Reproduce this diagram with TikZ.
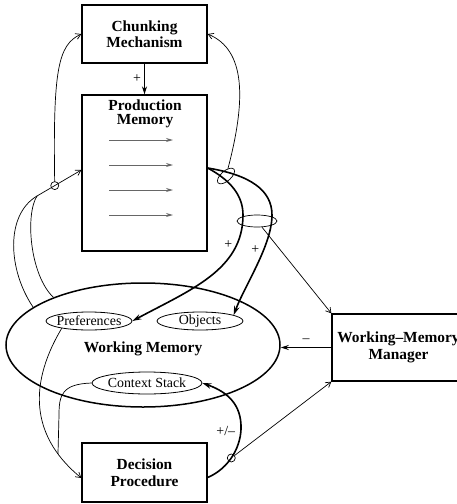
\documentclass[tikz,border=0pt]{standalone}
\usepackage{fontspec}
\setmainfont{Liberation Serif}
\usetikzlibrary{arrows.meta,shapes.geometric,calc}
\tikzset{
  box/.style={draw, line width=1.3pt, font=\fontsize{15.4}{16.5}\selectfont\bfseries, align=center, inner sep=0pt},
  oval/.style={draw, ellipse, line width=0.8pt, inner sep=0pt, font=\fontsize{13.9}{15}\selectfont},
  loop/.style={draw, ellipse, line width=0.7pt, inner sep=0pt},
  thinarr/.style={line width=0.7pt, -{Straight Barb[length=5pt,width=6pt]}},
  thickarr/.style={line width=1.6pt, -{Stealth[length=9pt,width=5.5pt]}},
  medarr/.style={line width=1.2pt, -{Stealth[length=8pt,width=5pt]}},
  thinline/.style={line width=0.7pt},
  junc/.style={draw, line width=0.7pt, circle, minimum size=8pt, inner sep=0pt},
  lab/.style={font=\fontsize{13.9}{15}\selectfont, inner sep=1pt},
  rulearr/.style={line width=1pt, draw=black!60, -{Stealth[length=7pt,width=4pt]}},
}
\begin{document}
\begin{tikzpicture}[x=1pt,y=-1pt]
\path[use as bounding box, clip] (0,0) rectangle (457,504);

% boxes
\node[box, minimum width=125pt, minimum height=58pt] (chunk) at (144.5,34) {Chunking\\Mechanism};
\node[box, minimum width=125pt, minimum height=156pt] (prod) at (144.5,173) {};
\node[font=\fontsize{15.4}{14.2}\selectfont\bfseries, align=center, inner sep=0pt] (prodtxt) at (145,114) {Production\\Memory};
\node[box, minimum width=125pt, minimum height=59pt] (dec) at (144.5,472.5) {Decision\\Procedure};
\node[box, minimum width=133pt, minimum height=67pt] (wmm) at (398.5,347.5) {Working--Memory\\Manager};

% rules inside production memory
\draw[rulearr] (109,140) -- (173,140);
\draw[rulearr] (109,165) -- (173,165);
\draw[rulearr] (109,190) -- (173,190);
\draw[rulearr] (109,215) -- (173,215);

% working memory
\node[draw, ellipse, line width=1.5pt, minimum width=274pt, minimum height=124pt, inner sep=0pt] (wm) at (143,345) {};
\node[font=\fontsize{15.4}{17}\selectfont\bfseries, inner sep=0pt] (wmtxt) at (143,349) {Working Memory};
\node[oval, minimum width=86pt, minimum height=18pt] (pref) at (89,321) {\makebox[0pt]{Preferences}};
\node[oval, minimum width=86pt, minimum height=18pt] (obj) at (200,321) {\makebox[0pt]{Objects}};
\node[oval, minimum width=110pt, minimum height=22pt] (cs) at (147,383) {\makebox[0pt]{Context Stack}};

% chunking -> production
\draw[medarr] (chunk) -- (prod) node[midway, left=2pt, lab] {+};

% left: working memory -> production / chunking
\coordinate (jL) at (37,196);
\draw[thinline] (wm.161) .. controls (8,270) and (5,215) .. (jL);
\draw[thinline] (wm.152) .. controls (30,275) and (25,215) .. (jL);
\draw[thinarr] (jL) -- ($(prod.west)+(0,-3)$) node[pos=0.4, junc] (c1) {};
\draw[thinarr] (c1) .. controls (53,70) and (58,45) .. (chunk.west);

% right: production -> preferences / objects
\coordinate (pR) at ($(prod.east)+(0,-5)$);
\draw[thickarr] (pR) .. controls (230,180) and (243,195) .. (243,215)
   .. controls (243,270) and (190,290) .. (pref.east) node[pos=0.2, left=3pt, lab] {+};
\draw[thickarr] (pR) .. controls (250,175) and (272,190) .. (272,215)
   .. controls (272,245) and (245,285) .. (obj.10) node[pos=0.35, left=3pt, lab] {+};
\node[loop, minimum width=21pt, minimum height=10pt, rotate=41] (e1) at (226,176) {};
\node[loop, minimum width=40pt, minimum height=12pt] (e2) at (257,221) {};
\draw[thinarr] (e1) .. controls (246,100) and (246,50) .. (chunk.east);
\draw[thinarr] (e2) -- (wmm.north west);

% manager -> working memory
\draw[medarr] (wmm.west) -- (wmm.west -| wm.east) node[midway, above=3pt, lab] {--};

% bottom: preferences / context stack -> decision
\draw[thinarr] (pref.195) .. controls (25,390) and (35,440) .. ($(dec.west)+(0,5.5)$) coordinate[pos=0.8] (mrg);
\draw[thinline] (cs.west) .. controls (62,384) and (59,395) .. (59,415) -- (mrg);

% decision -> context stack
\draw[thickarr] ($(dec.east)+(0,5)$) .. controls (230,468) and (242,445) .. (241,425)
   node[pos=0.45, junc] (c2) {} node[pos=0.9, left=4pt, lab] {+/--}
   .. controls (240,400) and (222,390) .. (cs.east);
\draw[thinarr] (c2) -- (wmm.south west);
\end{tikzpicture}
\end{document}
